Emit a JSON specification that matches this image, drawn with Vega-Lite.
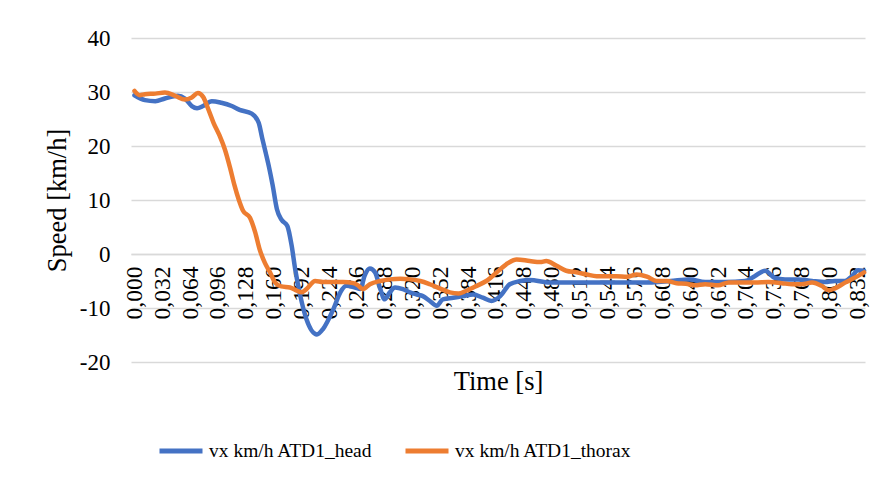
{
  "$schema": "https://vega.github.io/schema/vega-lite/v6.json",
  "autosize": {"type": "none"},
  "width": 734,
  "height": 324,
  "padding": {"left": 131, "top": 38, "right": 15, "bottom": 121},
  "background": "white",
  "config": {
    "view": {"stroke": null},
    "font": "Liberation Serif"
  },
  "datasets": {
    "head": [
      {"t":0.000,"v":29.4},{"t":0.012,"v":28.5},{"t":0.024,"v":28.3},{"t":0.035,"v":28.8},{"t":0.050,"v":29.3},
      {"t":0.058,"v":28.8},{"t":0.066,"v":27.4},{"t":0.072,"v":27.0},{"t":0.079,"v":27.4},{"t":0.089,"v":28.3},
      {"t":0.100,"v":28.0},{"t":0.112,"v":27.4},{"t":0.121,"v":26.7},{"t":0.135,"v":26.0},{"t":0.143,"v":24.3},
      {"t":0.147,"v":21.5},{"t":0.151,"v":18.8},{"t":0.155,"v":16.0},{"t":0.159,"v":12.8},{"t":0.164,"v":8.3},
      {"t":0.169,"v":6.4},{"t":0.176,"v":5.2},{"t":0.181,"v":1.5},{"t":0.185,"v":-2.8},{"t":0.191,"v":-7.8},
      {"t":0.198,"v":-12.1},{"t":0.210,"v":-14.9},{"t":0.217,"v":-13.9},{"t":0.229,"v":-10.2},{"t":0.237,"v":-7.1},
      {"t":0.244,"v":-5.9},{"t":0.254,"v":-6.2},{"t":0.260,"v":-6.5},{"t":0.265,"v":-4.0},{"t":0.271,"v":-2.7},
      {"t":0.277,"v":-3.4},{"t":0.283,"v":-6.5},{"t":0.288,"v":-8.4},{"t":0.294,"v":-7.1},{"t":0.300,"v":-6.2},
      {"t":0.309,"v":-6.5},{"t":0.317,"v":-7.1},{"t":0.325,"v":-7.5},{"t":0.332,"v":-7.8},{"t":0.340,"v":-8.7},
      {"t":0.348,"v":-9.6},{"t":0.355,"v":-8.4},{"t":0.367,"v":-8.1},{"t":0.378,"v":-7.8},{"t":0.390,"v":-7.5},
      {"t":0.401,"v":-8.1},{"t":0.411,"v":-8.7},{"t":0.421,"v":-7.8},{"t":0.432,"v":-5.6},{"t":0.444,"v":-5.0},
      {"t":0.455,"v":-4.8},{"t":0.478,"v":-5.3},{"t":0.509,"v":-5.3},{"t":0.547,"v":-5.3},{"t":0.585,"v":-5.3},
      {"t":0.617,"v":-5.0},{"t":0.639,"v":-4.7},{"t":0.657,"v":-5.2},{"t":0.680,"v":-5.2},{"t":0.703,"v":-5.0},
      {"t":0.714,"v":-4.1},{"t":0.726,"v":-3.1},{"t":0.737,"v":-4.4},{"t":0.749,"v":-4.7},{"t":0.764,"v":-4.7},
      {"t":0.780,"v":-5.0},{"t":0.795,"v":-5.2},{"t":0.806,"v":-5.0},{"t":0.818,"v":-5.0},{"t":0.826,"v":-4.1},
      {"t":0.833,"v":-3.0},{"t":0.840,"v":-3.1}
    ],
    "thorax": [
      {"t":0.000,"v":30.2},{"t":0.006,"v":29.4},{"t":0.012,"v":29.6},{"t":0.024,"v":29.7},{"t":0.035,"v":29.9},
      {"t":0.047,"v":29.3},{"t":0.058,"v":28.6},{"t":0.066,"v":29.0},{"t":0.073,"v":29.8},{"t":0.079,"v":29.1},
      {"t":0.085,"v":26.8},{"t":0.091,"v":24.3},{"t":0.098,"v":21.9},{"t":0.104,"v":19.4},{"t":0.110,"v":16.0},
      {"t":0.115,"v":12.8},{"t":0.120,"v":10.1},{"t":0.125,"v":8.0},{"t":0.133,"v":6.7},{"t":0.139,"v":4.0},
      {"t":0.144,"v":0.9},{"t":0.150,"v":-1.6},{"t":0.156,"v":-3.4},{"t":0.162,"v":-5.3},{"t":0.169,"v":-6.0},
      {"t":0.179,"v":-6.2},{"t":0.187,"v":-6.8},{"t":0.192,"v":-7.1},{"t":0.198,"v":-6.5},{"t":0.208,"v":-5.0},
      {"t":0.217,"v":-5.2},{"t":0.229,"v":-5.2},{"t":0.240,"v":-5.2},{"t":0.252,"v":-5.4},{"t":0.258,"v":-5.9},
      {"t":0.263,"v":-6.5},{"t":0.271,"v":-5.6},{"t":0.283,"v":-5.0},{"t":0.294,"v":-4.7},{"t":0.306,"v":-4.6},
      {"t":0.317,"v":-4.7},{"t":0.329,"v":-5.0},{"t":0.340,"v":-5.6},{"t":0.352,"v":-6.4},{"t":0.363,"v":-7.1},
      {"t":0.373,"v":-7.3},{"t":0.382,"v":-6.8},{"t":0.394,"v":-5.9},{"t":0.405,"v":-5.0},{"t":0.417,"v":-3.4},
      {"t":0.428,"v":-1.9},{"t":0.440,"v":-1.0},{"t":0.455,"v":-1.3},{"t":0.467,"v":-1.5},{"t":0.474,"v":-1.3},
      {"t":0.486,"v":-2.2},{"t":0.497,"v":-3.1},{"t":0.509,"v":-3.4},{"t":0.521,"v":-3.8},{"t":0.532,"v":-4.1},
      {"t":0.544,"v":-4.1},{"t":0.555,"v":-4.1},{"t":0.567,"v":-4.2},{"t":0.578,"v":-3.8},{"t":0.590,"v":-4.2},
      {"t":0.601,"v":-5.0},{"t":0.613,"v":-5.0},{"t":0.624,"v":-5.4},{"t":0.635,"v":-5.5},{"t":0.645,"v":-5.8},
      {"t":0.657,"v":-5.6},{"t":0.672,"v":-5.8},{"t":0.684,"v":-5.3},{"t":0.699,"v":-5.3},{"t":0.714,"v":-5.3},
      {"t":0.730,"v":-5.2},{"t":0.745,"v":-5.4},{"t":0.757,"v":-5.6},{"t":0.768,"v":-5.6},{"t":0.780,"v":-5.3},
      {"t":0.791,"v":-5.9},{"t":0.799,"v":-6.7},{"t":0.806,"v":-6.4},{"t":0.818,"v":-5.3},{"t":0.829,"v":-4.4},
      {"t":0.840,"v":-3.4}
    ]
  },
  "layer": [
    {
      "data": {"name": "head"},
      "transform": [{"calculate": "'vx km/h ATD1_head'", "as": "series"}],
      "mark": {"type": "line", "interpolate": "monotone", "strokeWidth": 4.5, "strokeCap": "round", "strokeJoin": "round"},
      "encoding": {
        "x": {"field": "t", "type": "quantitative"},
        "y": {"field": "v", "type": "quantitative"},
        "color": {"field": "series", "type": "nominal"}
      }
    },
    {
      "data": {"name": "thorax"},
      "transform": [{"calculate": "'vx km/h ATD1_thorax'", "as": "series"}],
      "mark": {"type": "line", "interpolate": "monotone", "strokeWidth": 4.5, "strokeCap": "round", "strokeJoin": "round"},
      "encoding": {
        "x": {"field": "t", "type": "quantitative"},
        "y": {"field": "v", "type": "quantitative"},
        "color": {"field": "series", "type": "nominal"}
      }
    }
  ],
  "resolve": {"scale": {"color": "shared"}},
  "encoding": {
    "x": {
      "field": "t", "type": "quantitative",
      "scale": {"domain": [-0.004, 0.841], "nice": false, "zero": false},
      "axis": {
        "title": "Time [s]",
        "values": [0,0.032,0.064,0.096,0.128,0.16,0.192,0.224,0.256,0.288,0.32,0.352,0.384,0.416,0.448,0.48,0.512,0.544,0.576,0.608,0.64,0.672,0.704,0.736,0.768,0.8,0.832],
        "labelExpr": "replace(format(datum.value, '.3f'), '.', ',')",
        "labelAngle": -90,
        "labelFontSize": 23.5,
        "labelColor": "#000000",
        "labelPadding": 12,
        "labelOverlap": false,
        "labelFlush": false,
        "offset": -108,
        "ticks": false,
        "grid": false,
        "domain": true,
        "domainColor": "#d9d9d9",
        "domainWidth": 1.3,
        "titleFontSize": 26.5,
        "titleFontWeight": "normal",
        "titleColor": "#000000",
        "titlePadding": 50
      }
    },
    "y": {
      "field": "v", "type": "quantitative",
      "scale": {"domain": [-20, 40], "nice": false},
      "axis": {
        "title": "Speed [km/h]",
        "values": [-20,-10,0,10,20,30,40],
        "labelExpr": "datum.value < 0 ? '-' + abs(datum.value) : '' + datum.value",
        "labelFontSize": 23,
        "labelColor": "#000000",
        "labelPadding": 21,
        "ticks": false,
        "domain": false,
        "grid": true,
        "gridColor": "#d9d9d9",
        "gridWidth": 1.3,
        "titleFontSize": 26.5,
        "titleFontWeight": "normal",
        "titleColor": "#000000",
        "titlePadding": 8
      }
    },
    "color": {
      "field": "series", "type": "nominal",
      "scale": {"domain": ["vx km/h ATD1_head", "vx km/h ATD1_thorax"], "range": ["#4472C4", "#ED7D31"]},
      "legend": {
        "title": null,
        "orient": "none",
        "direction": "horizontal",
        "legendX": 26,
        "legendY": 389,
        "symbolType": "stroke",
        "symbolSize": 1849,
        "symbolStrokeWidth": 5,
        "labelFontSize": 19.5,
        "labelColor": "#000000",
        "labelOffset": 4,
        "columnPadding": 22,
        "labelLimit": 400
      }
    }
  }
}
